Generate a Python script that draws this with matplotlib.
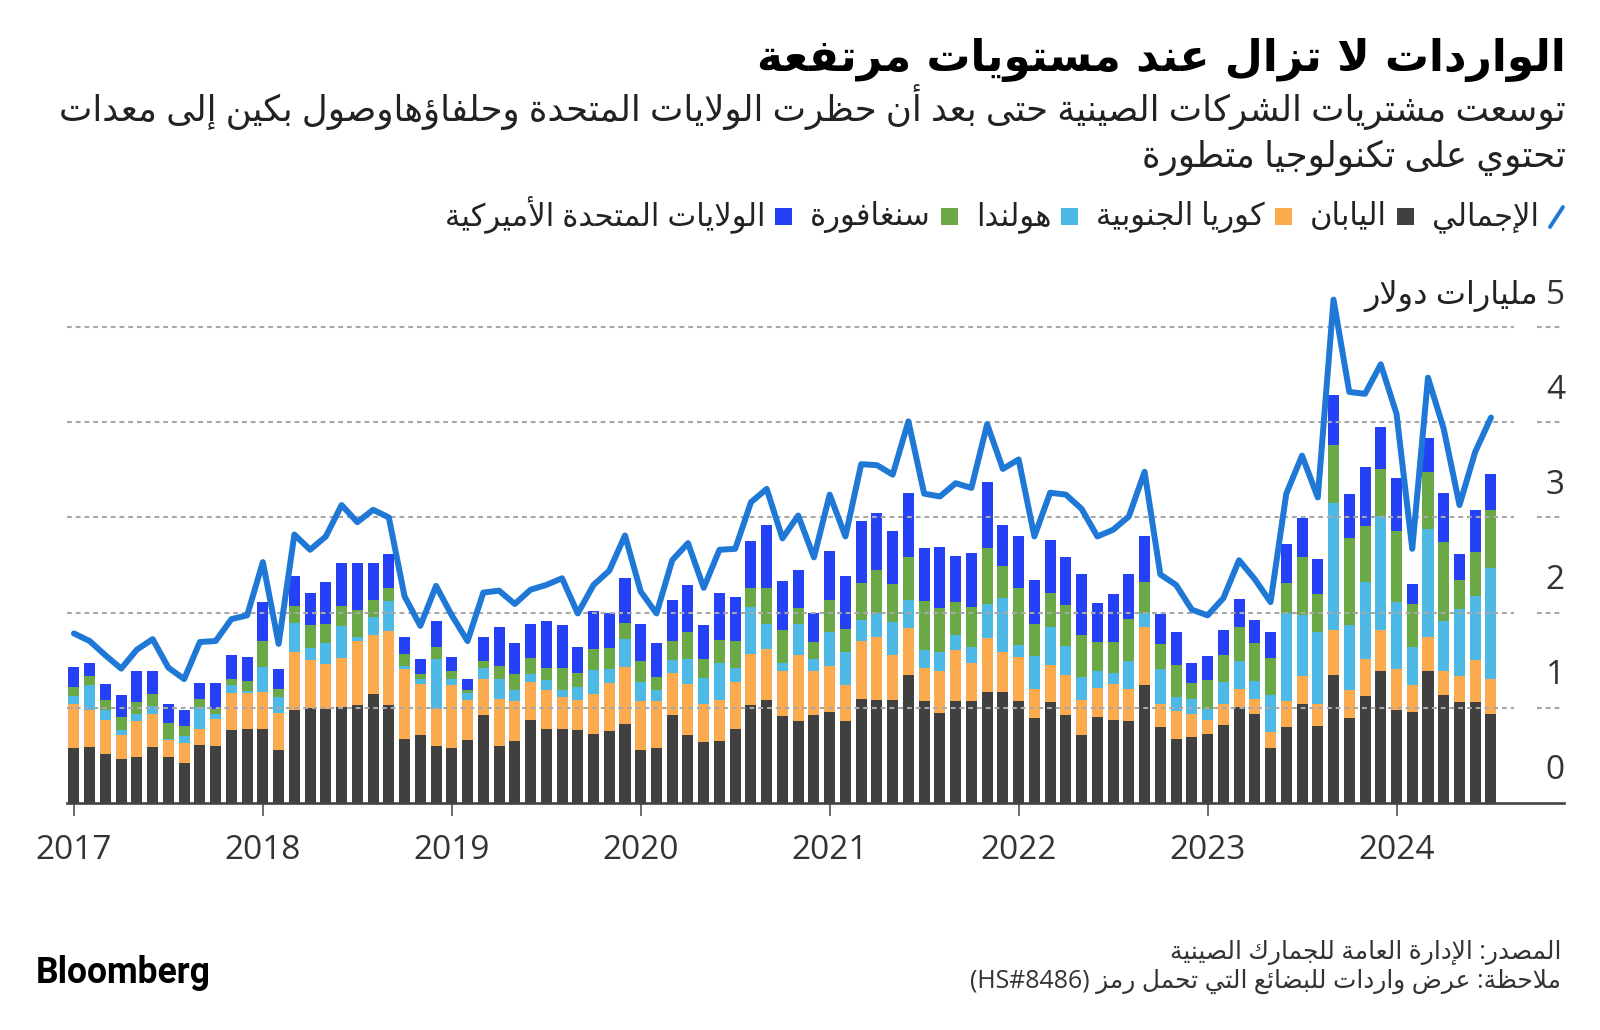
import numpy as np
import matplotlib
matplotlib.use('Agg')
import matplotlib.pyplot as plt
from matplotlib.patches import Rectangle
from matplotlib.lines import Line2D

# monthly imports, billion USD, Jan 2017 .. Jul 2024
years = ['2017', '2018', '2019', '2020', '2021', '2022', '2023', '2024']

japan = [0.58, 0.59, 0.51, 0.46, 0.48, 0.59, 0.48, 0.42, 0.61, 0.60, 0.76, 0.78,
         0.78, 0.55, 0.97, 1.00, 0.99, 1.01, 1.03, 1.14, 1.03, 0.67, 0.71, 0.60,
         0.58, 0.66, 0.92, 0.60, 0.65, 0.87, 0.77, 0.78, 0.76, 0.72, 0.75, 0.83,
         0.55, 0.57, 0.92, 0.71, 0.64, 0.65, 0.77, 1.03, 1.08, 0.91, 0.86, 0.92,
         0.95, 0.86, 1.09, 1.08, 1.08, 1.34, 1.07, 0.94, 1.07, 1.07, 1.16, 1.16,
         1.07, 0.89, 1.06, 0.92, 0.71, 0.90, 0.87, 0.86, 1.24, 0.80, 0.67, 0.69,
         0.72, 0.82, 1.01, 0.93, 0.57, 0.80, 1.04, 0.81, 1.34, 0.89, 1.12, 1.39,
         0.98, 0.95, 1.38, 1.13, 1.06, 1.06, 0.93]
korea = [0.46, 0.38, 0.36, 0.25, 0.38, 0.34, 0.18, 0.21, 0.17, 0.28, 0.39, 0.37,
         0.38, 0.39, 0.62, 0.50, 0.47, 0.51, 0.67, 0.62, 0.78, 0.74, 0.54, 0.39,
         0.66, 0.42, 0.38, 0.49, 0.42, 0.40, 0.41, 0.33, 0.32, 0.42, 0.51, 0.60,
         0.52, 0.50, 0.44, 0.54, 0.40, 0.43, 0.50, 0.53, 0.54, 0.47, 0.69, 0.46,
         0.49, 0.38, 0.61, 0.66, 0.47, 0.50, 0.35, 0.45, 0.54, 0.40, 0.57, 0.43,
         0.46, 0.31, 0.39, 0.42, 0.37, 0.31, 0.38, 0.34, 0.61, 0.24, 0.29, 0.24,
         0.15, 0.22, 0.19, 0.16, 0.17, 0.27, 0.29, 0.23, 0.48, 0.29, 0.39, 0.43,
         0.43, 0.29, 0.36, 0.26, 0.27, 0.44, 0.37]
netherlands = [0.08, 0.27, 0.11, 0.05, 0.07, 0.09, 0.01, 0.07, 0.23, 0.05, 0.09, 0.02,
               0.27, 0.17, 0.30, 0.13, 0.22, 0.34, 0.04, 0.19, 0.31, 0.03, 0.05, 0.52,
               0.06, 0.07, 0.12, 0.21, 0.12, 0.08, 0.11, 0.08, 0.14, 0.26, 0.15, 0.29,
               0.20, 0.12, 0.14, 0.26, 0.27, 0.39, 0.15, 0.50, 0.26, 0.09, 0.33, 0.13,
               0.36, 0.35, 0.22, 0.25, 0.35, 0.29, 0.19, 0.20, 0.15, 0.17, 0.36, 0.56,
               0.13, 0.34, 0.40, 0.31, 0.24, 0.17, 0.11, 0.29, 0.14, 0.37, 0.15, 0.16,
               0.12, 0.23, 0.29, 0.19, 0.39, 0.92, 0.64, 0.76, 1.33, 0.69, 0.81, 1.19,
               0.70, 0.40, 1.14, 0.52, 0.71, 0.67, 1.17]
singapore = [0.10, 0.09, 0.10, 0.14, 0.13, 0.12, 0.17, 0.11, 0.08, 0.06, 0.06, 0.11,
             0.27, 0.09, 0.18, 0.24, 0.20, 0.21, 0.29, 0.18, 0.14, 0.12, 0.05, 0.13,
             0.09, 0.03, 0.07, 0.14, 0.16, 0.17, 0.13, 0.23, 0.14, 0.22, 0.22, 0.17,
             0.22, 0.13, 0.20, 0.29, 0.20, 0.24, 0.28, 0.20, 0.38, 0.35, 0.17, 0.18,
             0.33, 0.24, 0.39, 0.46, 0.40, 0.45, 0.51, 0.46, 0.35, 0.42, 0.59, 0.34,
             0.60, 0.34, 0.36, 0.43, 0.44, 0.31, 0.33, 0.44, 0.33, 0.26, 0.34, 0.17,
             0.30, 0.28, 0.36, 0.40, 0.39, 0.32, 0.61, 0.40, 0.61, 0.91, 0.59, 0.50,
             0.75, 0.45, 0.60, 0.83, 0.30, 0.47, 0.61]
usa = [0.21, 0.14, 0.17, 0.23, 0.32, 0.24, 0.20, 0.16, 0.17, 0.27, 0.25, 0.25,
       0.41, 0.21, 0.31, 0.34, 0.44, 0.45, 0.49, 0.39, 0.36, 0.18, 0.16, 0.27,
       0.14, 0.12, 0.25, 0.41, 0.33, 0.36, 0.49, 0.45, 0.28, 0.40, 0.36, 0.47,
       0.39, 0.36, 0.43, 0.49, 0.36, 0.50, 0.46, 0.49, 0.66, 0.51, 0.40, 0.31,
       0.52, 0.55, 0.65, 0.60, 0.56, 0.68, 0.56, 0.64, 0.48, 0.57, 0.69, 0.43,
       0.54, 0.46, 0.55, 0.50, 0.65, 0.41, 0.50, 0.48, 0.48, 0.31, 0.35, 0.21,
       0.25, 0.27, 0.29, 0.24, 0.28, 0.41, 0.41, 0.36, 0.53, 0.47, 0.62, 0.44,
       0.55, 0.21, 0.36, 0.52, 0.28, 0.44, 0.38]
total = [1.78, 1.70, 1.55, 1.41, 1.61, 1.72, 1.42, 1.30, 1.69, 1.70, 1.93, 1.97,
         2.53, 1.67, 2.82, 2.66, 2.80, 3.13, 2.95, 3.08, 3.00, 2.17, 1.86, 2.28,
         1.97, 1.70, 2.21, 2.23, 2.09, 2.24, 2.29, 2.36, 1.99, 2.29, 2.44, 2.81,
         2.22, 1.99, 2.55, 2.73, 2.26, 2.66, 2.67, 3.16, 3.30, 2.78, 3.02, 2.58,
         3.24, 2.80, 3.56, 3.55, 3.45, 4.01, 3.25, 3.22, 3.36, 3.31, 3.98, 3.51,
         3.61, 2.80, 3.26, 3.24, 3.09, 2.80, 2.87, 3.01, 3.48, 2.40, 2.29, 2.03,
         1.97, 2.15, 2.55, 2.35, 2.11, 3.25, 3.65, 3.21, 5.29, 4.32, 4.30, 4.61,
         4.09, 2.67, 4.47, 3.93, 3.13, 3.69, 4.05]

series_names = ['اليابان', 'كوريا الجنوبية', 'هولندا', 'سنغافورة',
                'الولايات المتحدة الأميركية']
total_name = 'الإجمالي'
colors = ['#404040', '#fcaa4e', '#4fb9e6', '#6aa946', '#2541f5']
line_color = '#1f78d6'

title = 'الواردات لا تزال عند مستويات مرتفعة'
subtitle1 = ('توسعت مشتريات الشركات الصينية حتى بعد أن حظرت الولايات المتحدة '
             'وحلفاؤهاوصول بكين إلى معدات')
subtitle2 = 'تحتوي على تكنولوجيا متطورة'
unit_label = 'مليارات دولار'
source = 'المصدر: الإدارة العامة للجمارك الصينية'
note = 'ملاحظة: عرض واردات للبضائع التي تحمل رمز'
note_code = '(HS#8486)'


# --- minimal Arabic shaping (matplotlib has no complex text layout) ---
DUAL = set('بتثجحخسشصضطظعغفقكلمنهيئى')
RIGHT = set('اأإآدذرزوؤة')
BASE = {'ء': 0xFE80, 'آ': 0xFE81, 'أ': 0xFE83, 'ؤ': 0xFE85, 'إ': 0xFE87,
        'ئ': 0xFE89, 'ا': 0xFE8D, 'ب': 0xFE8F, 'ة': 0xFE93, 'ت': 0xFE95,
        'ث': 0xFE99, 'ج': 0xFE9D, 'ح': 0xFEA1, 'خ': 0xFEA5, 'د': 0xFEA9,
        'ذ': 0xFEAB, 'ر': 0xFEAD, 'ز': 0xFEAF, 'س': 0xFEB1, 'ش': 0xFEB5,
        'ص': 0xFEB9, 'ض': 0xFEBD, 'ط': 0xFEC1, 'ظ': 0xFEC5, 'ع': 0xFEC9,
        'غ': 0xFECD, 'ف': 0xFED1, 'ق': 0xFED5, 'ك': 0xFED9, 'ل': 0xFEDD,
        'م': 0xFEE1, 'ن': 0xFEE5, 'ه': 0xFEE9, 'و': 0xFEED, 'ى': 0xFEEF,
        'ي': 0xFEF1}
LAM_ALEF = {'آ': 0xFEF5, 'أ': 0xFEF7, 'إ': 0xFEF9, 'ا': 0xFEFB}


def shape(s):
    out = []
    prev_dual = False
    i = 0
    while i < len(s):
        c = s[i]
        nxt = s[i + 1] if i + 1 < len(s) else ''
        if c == 'ل' and nxt in LAM_ALEF:
            out.append(chr(LAM_ALEF[nxt] + (1 if prev_dual else 0)))
            prev_dual = False
            i += 2
            continue
        if c in BASE:
            link_prev = prev_dual
            link_next = c in DUAL and (nxt in DUAL or nxt in RIGHT)
            if c in DUAL:
                form = 3 if (link_prev and link_next) else 2 if link_next else 1 if link_prev else 0
            elif c in RIGHT:
                form = 1 if link_prev else 0
            else:
                form = 0
            out.append(chr(BASE[c] + form))
            prev_dual = c in DUAL
        else:
            out.append(c)
            prev_dual = False
        i += 1
    return ''.join(out)


def ar(s):
    return shape(s)[::-1]


plt.rcParams['font.family'] = ['Open Sans', 'DejaVu Sans']

W, H = 1600, 1030
fig = plt.figure(figsize=(16, 10.3), dpi=100)
fig.patch.set_facecolor('white')
renderer = fig.canvas.get_renderer()


def fx(x):
    return x / W


def fy(y):
    return 1 - y / H


def width_of(t):
    return t.get_window_extent(renderer).width


def fit(t, width):
    t.set_fontsize(t.get_fontsize() * width / width_of(t))


# axes: x from 67px to 1564px, baseline at 802.7px, top at 279.7px
ax = fig.add_axes([fx(67), fy(802.7), (1564 - 67) / W, (802.7 - 279.7) / H])
n = len(total)
months = np.arange(n)
ax.set_xlim(-0.44, -0.44 + (1564 - 67) / 15.745)
ax.set_ylim(0, 5.5)

bottom = np.zeros(n)
for vals, col in zip([japan, korea, netherlands, singapore, usa], colors):
    ax.bar(months, vals, bottom=bottom, width=0.7, color=col, linewidth=0, zorder=2)
    bottom += np.array(vals)

ax.plot(months, total, color=line_color, lw=4.3, solid_joinstyle='round',
        solid_capstyle='round', zorder=5, clip_on=False)

for v in range(1, 6):
    for a, b in [(0, 0.9666), (0.982, 0.9987)]:
        ax.axhline(v, a, b, color='#a8a8a8', lw=1.5, ls=(0, (2.3, 1.9)), zorder=3)

for v in range(0, 6):
    ax.annotate(str(v), xy=(1, v), xycoords=('axes fraction', 'data'),
                xytext=(0.7, 23), textcoords='offset points',
                ha='right', va='center', fontsize=24, color='#333333')
ax.annotate(ar(unit_label), xy=(1, 5), xycoords=('axes fraction', 'data'),
            xytext=(-19, 23), textcoords='offset points',
            ha='right', va='center', fontsize=23, color='#222222')

for side in ['left', 'top', 'right']:
    ax.spines[side].set_visible(False)
ax.spines['bottom'].set_color('#444444')
ax.spines['bottom'].set_linewidth(1.9)
ax.set_yticks([])
ax.set_xticks(months[::12])
ax.set_xticklabels(years)
ax.tick_params(axis='x', length=9.4, width=1.1, color='#444444', pad=13,
               labelsize=24, labelcolor='#333333')

# title block
t = fig.text(fx(1566), fy(71), ar(title), ha='right', va='baseline',
             fontsize=30, weight='bold', family=['DejaVu Sans'], color='#000000')
fit(t, 806)
s1 = fig.text(fx(1566), fy(121), ar(subtitle1), ha='right', va='baseline',
              fontsize=20, color='#222222')
fit(s1, 1510)
fig.text(fx(1566), fy(167), ar(subtitle2), ha='right', va='baseline',
         fontsize=s1.get_fontsize(), color='#222222')

# legend, laid out right to left, scaled to span 446px..1563px
leg_y = 225
sq = 17
icon, icon_gap, mark_gap, item_gap = 13, 11, 10, 18
labels = [total_name] + series_names
leg_texts = [fig.text(0, fy(leg_y), ar(s), ha='right', va='baseline',
                      fontsize=17, color='#222222') for s in labels]
fixed = icon + icon_gap + len(series_names) * (sq + mark_gap + item_gap)
scale = (1563 - 446 - fixed) / sum(width_of(lt) for lt in leg_texts)
for lt in leg_texts:
    lt.set_fontsize(lt.get_fontsize() * scale)

x = 1563
fig.add_artist(Line2D([fx(x - icon), fx(x)], [fy(leg_y + 2), fy(leg_y - 18)],
                      color=line_color, lw=2.8, solid_capstyle='round'))
x -= icon + icon_gap
leg_texts[0].set_x(fx(x))
x -= width_of(leg_texts[0]) + item_gap
for lt, col in zip(leg_texts[1:], colors):
    fig.add_artist(Rectangle((fx(x - sq), fy(leg_y)), sq / W, sq / H,
                             facecolor=col, edgecolor='none'))
    x -= sq + mark_gap
    lt.set_x(fx(x))
    x -= width_of(lt) + item_gap

# footer
f2 = fig.text(fx(1561), fy(988), note_code + ' ' + ar(note), ha='right',
              va='baseline', fontsize=15, color='#333333')
fit(f2, 592)
fig.text(fx(1561), fy(959), ar(source), ha='right', va='baseline',
         fontsize=f2.get_fontsize(), color='#333333')
b = fig.text(fx(36), fy(983), 'Bloomberg', ha='left', va='baseline',
             fontsize=22, weight='bold', family=['Roboto'], color='#000000')
fit(b, 175)

fig.savefig('out.png', dpi=100, facecolor='white')
